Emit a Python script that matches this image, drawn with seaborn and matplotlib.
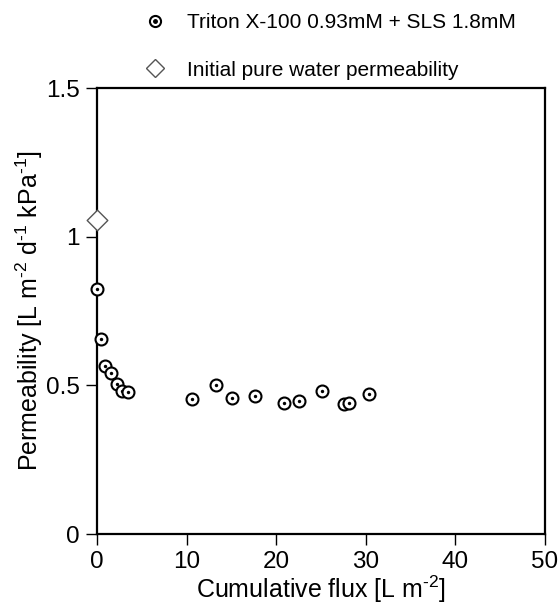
import numpy as np
import pandas as pd
import matplotlib
matplotlib.use("Agg")
import matplotlib.pyplot as plt
import seaborn as sns
from matplotlib.lines import Line2D

# Cumulative flux [L m-2] and permeability
flux = [0.0, 0.37, 0.92, 1.55, 2.18, 2.77, 3.47, 10.6, 13.25, 15.1, 17.6,
        20.9, 22.55, 25.1, 27.6, 28.1, 30.4]
perm = [0.826, 0.657, 0.565, 0.542, 0.506, 0.48, 0.478, 0.455, 0.502, 0.457,
        0.464, 0.44, 0.449, 0.481, 0.438, 0.44, 0.471]
pure_flux = [0.0]
pure_perm = [1.058]

series_label = "Triton X-100 0.93mM + SLS 1.8mM"
pure_label = "Initial pure water permeability"

df = pd.DataFrame({"flux": flux, "perm": perm})
df_pure = pd.DataFrame({"flux": pure_flux, "perm": pure_perm})

sns.set_style("ticks", {"text.color": "black", "axes.labelcolor": "black",
                        "xtick.color": "black", "ytick.color": "black",
                        "axes.edgecolor": "black"})
plt.rcParams["font.family"] = ["Liberation Sans", "DejaVu Sans"]
plt.rcParams["axes.unicode_minus"] = False
plt.rcParams["mathtext.fontset"] = "custom"
plt.rcParams["mathtext.rm"] = "Liberation Sans"
plt.rcParams["mathtext.default"] = "regular"

fig = plt.figure(figsize=(5.59, 6.06), dpi=100)
ax = fig.add_axes([0.174, 0.1188, 0.8004, 0.7355])

sns.scatterplot(data=df_pure, x="flux", y="perm", ax=ax, marker="D", s=110,
                facecolor="white", edgecolor="#555555", linewidth=1.0,
                clip_on=False, zorder=3)
# each point drawn in order so later rings sit on top of earlier ones
for i in range(len(df)):
    sns.scatterplot(x=[flux[i]], y=[perm[i]], ax=ax, marker="o", s=74,
                    facecolor="white", edgecolor="black", linewidth=1.5,
                    clip_on=False, zorder=4 + i)
    sns.scatterplot(x=[flux[i]], y=[perm[i]], ax=ax, marker="o", s=6,
                    color="black", linewidth=0, clip_on=False, zorder=4 + i)

ax.set_xlim(0, 50)
ax.set_ylim(0, 1.5)
ax.set_xticks([0, 10, 20, 30, 40, 50])
ax.set_yticks([0, 0.5, 1, 1.5])
ax.set_yticklabels(["0", "0.5", "1", "1.5"])
ax.tick_params(direction="out", length=8, width=1, labelsize=17.5, pad=4.5)
for s in ax.spines.values():
    s.set_linewidth(1.6)
ax.set_xlabel(r"Cumulative flux [L m$^{\text{-}2}$]", fontsize=18, labelpad=0)
ax.set_ylabel(r"Permeability [L m$^{\text{-}2}$ d$^{\text{-}1}$ kPa$^{\text{-}1}$]",
              fontsize=18, labelpad=1)

h1 = (Line2D([], [], marker="o", ls="", markersize=8, markerfacecolor="white",
             markeredgecolor="black", markeredgewidth=1.5),
      Line2D([], [], marker="o", ls="", markersize=2.5, color="black"))
h2 = Line2D([], [], marker="D", ls="", markersize=9, markerfacecolor="white",
            markeredgecolor="#555555", markeredgewidth=1.0)
fig.legend([h1, h2], [series_label, pure_label], loc="upper left",
           bbox_to_anchor=(0.2158, 1.0087), frameon=False, fontsize=15,
           labelspacing=1.355, handletextpad=0.8, handlelength=1.5)

fig.savefig("out.png", dpi=100)
